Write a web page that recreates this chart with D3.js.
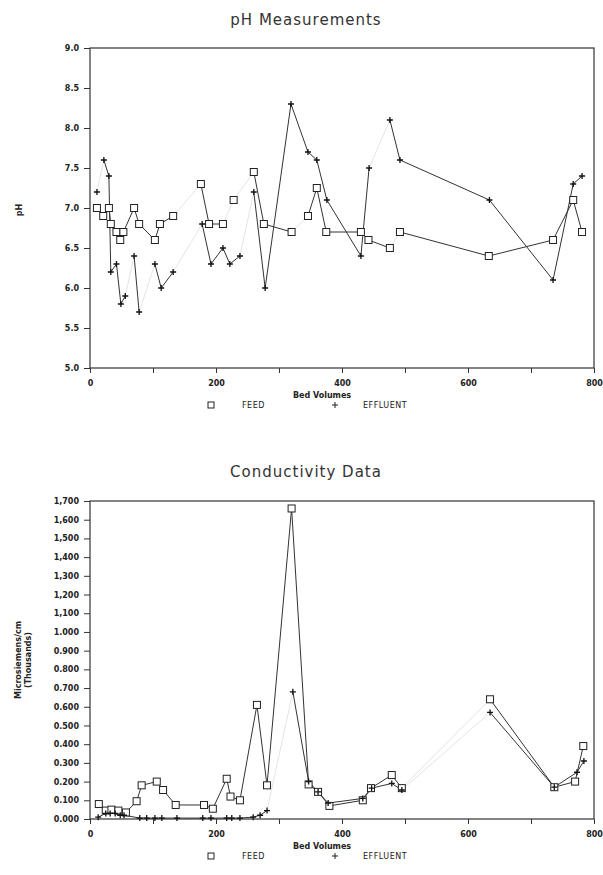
<!DOCTYPE html>
<html>
<head>
<meta charset="utf-8">
<script src="https://cdn.jsdelivr.net/npm/d3@7"></script>
<style>
  body { margin: 0; background: #fff; }
  svg text { font-family: "DejaVu Sans", sans-serif; fill: #222; }
  .tick text { font-size: 8px; font-weight: bold; }
  .tick line { stroke: #333; }
  .title { font-size: 15px; letter-spacing: 1px; fill: #333; }
  .axis-label { font-size: 8px; font-weight: bold; }
  .legend { font-size: 8px; letter-spacing: 0.5px; }
</style>
</head>
<body>
<svg id="chart" width="603" height="875"></svg>
<script>
/* ── data ─────────────────────────────────────────────────── */
// [bed volumes, value]
const phFeed = [
  [11, 7.0], [21, 6.9], [30, 7.0], [33, 6.8], [42, 6.7], [48, 6.6], [53, 6.7],
  [70, 7.0], [78, 6.8], [103, 6.6], [111, 6.8], [132, 6.9], [176, 7.3], [189, 6.8],
  [211, 6.8], [228, 7.1], [260, 7.45], [276, 6.8], [320, 6.7], [346, 6.9], [360, 7.25],
  [375, 6.7], [430, 6.7], [442, 6.6], [476, 6.5], [492, 6.7], [633, 6.4], [735, 6.6],
  [767, 7.1], [781, 6.7]
];
const phEffluent = [
  [11, 7.2], [22, 7.6], [30, 7.4], [33, 6.2], [42, 6.3], [49, 5.8], [56, 5.9],
  [70, 6.4], [78, 5.7], [103, 6.3], [113, 6.0], [132, 6.2], [178, 6.8], [192, 6.3],
  [211, 6.5], [222, 6.3], [238, 6.4], [260, 7.2], [278, 6.0], [319, 8.3], [346, 7.7],
  [360, 7.6], [376, 7.1], [430, 6.4], [443, 7.5], [476, 8.1], [492, 7.6], [634, 7.1],
  [735, 6.1], [767, 7.3], [781, 7.4]
];
const condFeed = [
  [14, 0.08], [25, 0.045], [34, 0.05], [45, 0.045], [57, 0.035], [74, 0.095], [82, 0.18],
  [106, 0.2], [116, 0.155], [136, 0.075], [181, 0.075], [195, 0.055], [217, 0.215],
  [223, 0.12], [238, 0.1], [265, 0.61], [281, 0.18], [320, 1.66], [347, 0.185],
  [362, 0.145], [380, 0.07], [433, 0.1], [446, 0.165], [479, 0.235], [495, 0.165],
  [635, 0.64], [737, 0.17], [770, 0.2], [783, 0.39]
];
const condEffluent = [
  [13, 0.01], [25, 0.03], [32, 0.03], [40, 0.03], [48, 0.02], [54, 0.02], [79, 0.005],
  [90, 0.005], [103, 0.005], [114, 0.005], [138, 0.005], [179, 0.005], [192, 0.005],
  [217, 0.005], [225, 0.005], [238, 0.005], [259, 0.01], [270, 0.02], [281, 0.045],
  [322, 0.68], [347, 0.2], [362, 0.145], [378, 0.085], [433, 0.11], [447, 0.165],
  [479, 0.19], [495, 0.155], [635, 0.57], [737, 0.17], [773, 0.25], [784, 0.31]
];

// segments (by starting bed volume) that are barely visible in the print
const phFeedFaint      = [132, 211, 228, 320, 476];
const phEffluentFaint  = [11, 56, 78, 132, 238, 443];
const condFeedFaint    = [495];
const condEffluentFaint = [281, 495];

const bedTicks   = [0, 100, 200, 300, 400, 500, 600, 700, 800];
const bedLabels  = [0, 200, 400, 600, 800];
const phTicks    = [5.0, 5.5, 6.0, 6.5, 7.0, 7.5, 8.0, 8.5, 9.0];
const condTicks  = [0, 0.1, 0.2, 0.3, 0.4, 0.5, 0.6, 0.7, 0.8, 0.9, 1.0,
                    1.1, 1.2, 1.3, 1.4, 1.5, 1.6, 1.7];
const condLabels = ['0.000', '0.100', '0.200', '0.300', '0.400', '0.500', '0.600',
                    '0.700', '0.800', '0.900', '1.000', '1,100', '1,200', '1,300',
                    '1,400', '1,500', '1,600', '1,700'];

/* ── layout ───────────────────────────────────────────────── */
const svg = d3.select('#chart');
const ML = 90, MR = 594;

const x = d3.scaleLinear().domain([0, 800]).range([ML, MR]);

function drawPanel(opt) {
  const y = d3.scaleLinear().domain(opt.domain).range([opt.bottom, opt.top]);
  const g = svg.append('g');

  g.append('text').attr('class', 'title')
    .attr('x', 306).attr('y', opt.titleY)
    .attr('text-anchor', 'middle').text(opt.title);

  // frame
  g.append('rect')
    .attr('x', ML).attr('y', opt.top)
    .attr('width', MR - ML).attr('height', opt.bottom - opt.top)
    .attr('fill', 'none').attr('stroke', '#333').attr('stroke-width', 1.2);

  // axes
  g.append('g')
    .attr('transform', `translate(0,${opt.bottom})`)
    .call(d3.axisBottom(x).tickValues(bedTicks).tickSize(5).tickPadding(7)
      .tickFormat(d => bedLabels.includes(d) ? d : ''))
    .call(a => a.select('.domain').remove());

  g.append('g')
    .attr('transform', `translate(${ML},0)`)
    .call(d3.axisLeft(y).tickValues(opt.ticks).tickSize(6).tickPadding(5)
      .tickFormat(opt.format))
    .call(a => a.select('.domain').remove());

  // axis labels
  opt.yLabel.forEach((t, i) => {
    g.append('text').attr('class', 'axis-label')
      .attr('transform', `translate(${opt.yLabelX + i * 10},${opt.yLabelY}) rotate(-90)`)
      .attr('text-anchor', 'middle').text(t);
  });
  g.append('text').attr('class', 'axis-label')
    .attr('x', 322).attr('y', opt.bottom + 30)
    .attr('text-anchor', 'middle').text('Bed Volumes');

  // legend
  const ly = opt.bottom + 40;
  g.append('rect').attr('x', 208).attr('y', ly - 6).attr('width', 6).attr('height', 6)
    .attr('fill', 'none').attr('stroke', '#222');
  g.append('text').attr('class', 'legend').attr('x', 242).attr('y', ly).text('FEED');
  g.append('path').attr('d', `M${332},${ly - 3}h6M${335},${ly - 6}v6`)
    .attr('stroke', '#222').attr('stroke-width', 1);
  g.append('text').attr('class', 'legend').attr('x', 363).attr('y', ly).text('EFFLUENT');

  // series: one path per segment so faint ones can be drawn lighter
  const line = d3.line().x(d => x(d[0])).y(d => y(d[1]));

  [[opt.effluent, opt.effluentFaint], [opt.feed, opt.feedFaint]].forEach(([s, faint]) => {
    const segs = d3.pairs(s);
    g.selectAll(null).data(segs).enter().append('path')
      .attr('d', line)
      .attr('fill', 'none')
      .attr('stroke', d => faint.includes(d[0][0]) ? '#e4e4e4' : '#333')
      .attr('stroke-width', 1);
  });

  g.selectAll('.feed').data(opt.feed).enter().append('rect')
    .attr('class', 'feed')
    .attr('x', d => x(d[0]) - 3.5).attr('y', d => y(d[1]) - 3.5)
    .attr('width', 7).attr('height', 7)
    .attr('fill', '#fff').attr('stroke', '#222').attr('stroke-width', 1);

  g.selectAll('.eff').data(opt.effluent).enter().append('path')
    .attr('class', 'eff')
    .attr('transform', d => `translate(${x(d[0])},${y(d[1])})`)
    .attr('d', 'M-3,0H3M0,-3V3')
    .attr('stroke', '#111').attr('stroke-width', 1.3);
}

drawPanel({
  title: 'pH Measurements', titleY: 25,
  top: 48, bottom: 368, domain: [5, 9],
  ticks: phTicks, format: d3.format('.1f'),
  yLabel: ['pH'], yLabelX: 22, yLabelY: 210,
  feed: phFeed, effluent: phEffluent,
  feedFaint: phFeedFaint, effluentFaint: phEffluentFaint
});

drawPanel({
  title: 'Conductivity Data', titleY: 477,
  top: 501, bottom: 819, domain: [0, 1.7],
  ticks: condTicks, format: (d, i) => condLabels[i],
  yLabel: ['Microsiemens/cm', '(Thousands)'], yLabelX: 21, yLabelY: 660,
  feed: condFeed, effluent: condEffluent,
  feedFaint: condFeedFaint, effluentFaint: condEffluentFaint
});
</script>
</body>
</html>
